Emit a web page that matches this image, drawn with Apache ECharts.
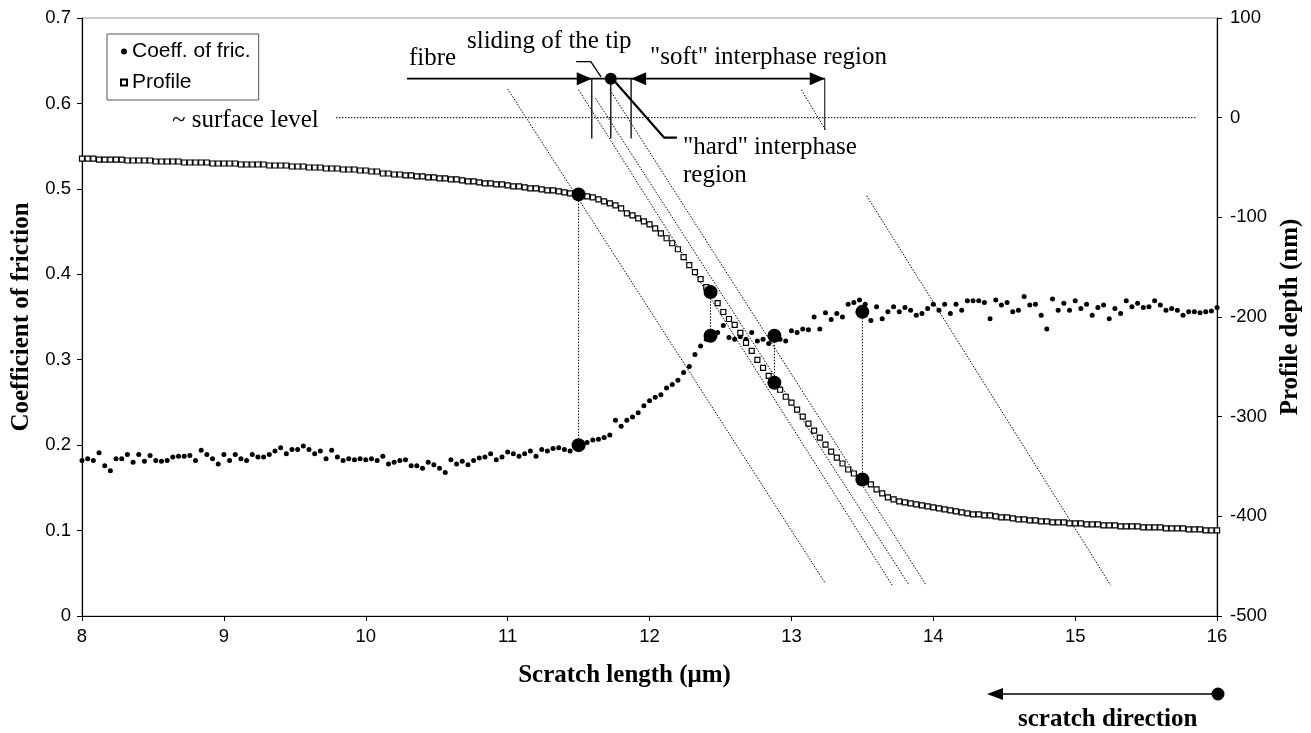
<!DOCTYPE html>
<html><head><meta charset="utf-8">
<script src="https://cdn.jsdelivr.net/npm/echarts@6/dist/echarts.min.js"></script>
<style>html,body{margin:0;padding:0;background:#fff}#chart{width:1311px;height:733px}</style>
</head><body><div id="chart"></div>
<script>
// ---- sampling grid of the scratch (µm) ----
const xStart = 8, xStep = 0.04;
// ---- axis ranges / ticks ----
const xRange = [8, 16], xInterval = 1;
const frictionRange = [0, 0.7], frictionInterval = 0.1;
const depthRange = [-500, 100], depthInterval = 100;

// ---- Coefficient of friction (left axis), one value per 0.04 µm from 8 to 16 ----
const frictionCoeff = [
0.182,0.184,0.182,0.191,0.176,0.170,0.184,0.184,0.189,0.180,
0.189,0.181,0.188,0.182,0.181,0.182,0.186,0.187,0.187,0.188,
0.182,0.194,0.189,0.184,0.178,0.189,0.182,0.189,0.184,0.182,
0.189,0.186,0.186,0.189,0.193,0.197,0.190,0.195,0.195,0.199,
0.195,0.190,0.193,0.184,0.194,0.186,0.182,0.184,0.183,0.184,
0.183,0.184,0.182,0.187,0.178,0.180,
0.182,0.183,0.176,0.176,0.173,0.180,0.177,0.173,0.168,0.183,0.178,0.181,0.177,0.182,
0.185,0.186,0.190,0.183,0.186,0.192,0.190,0.187,0.190,0.193,0.187,0.195,0.193,0.196,0.197,0.195,0.193,0.199,
0.202,0.203,0.206,0.207,0.209,0.212,0.229,0.222,0.229,0.233,
0.238,0.246,0.252,0.256,0.259,0.267,0.271,0.276,0.285,0.292,
0.306,0.316,0.324,0.328,0.332,0.340,0.326,0.324,0.327,0.324,
0.332,0.322,0.324,0.319,0.328,0.324,0.322,0.334,0.332,0.336,
0.335,0.350,0.336,0.355,0.347,0.354,0.350,0.365,0.367,0.370,
0.365,0.346,0.362,0.348,0.356,0.362,0.356,0.361,0.358,0.352,
0.354,0.360,0.365,0.358,0.365,0.354,0.365,
0.358,0.369,0.369,0.369,0.367,0.348,0.370,0.364,0.367,0.356,
0.358,0.374,0.364,0.365,0.352,0.336,0.371,0.358,0.366,0.358,
0.369,0.360,0.365,0.352,0.361,0.364,0.348,0.360,0.354,0.369,
0.362,0.366,0.361,0.362,0.369,0.364,0.358,0.360,0.358,0.352,
0.356,0.356,0.355,0.356,0.357,0.361
];

// ---- Profile depth (nm, right axis), one value per 0.04 µm from 8 to 16 ----
const profileDepth = [
-41,-41,-41,-42,-42,-42,-42,-42,-43,-43,
-43,-43,-43,-44,-44,-44,-44,-44,-45,-45,
-45,-45,-45,-46,-46,-46,-46,-46,-47,-47,
-47,-47,-47,-48,-48,-48,-48,-49,-49,-49,
-50,-50,-50,-51,-51,-51,-52,-52,-52,-53,
-53,-54,-54,-56,-56,-57,-57,-58,-58,-59,
-59,-60,-60,-61,-61,-62,-62,-63,-64,-64,
-65,-66,-66,-67,-67,-68,-69,-69,-70,-71,
-71,-72,-73,-73,-74,-75,-76,-77,-78,-79,
-80,-82,-84,-86,-88,-91,-96,-98,-101,-104,
-107,-111,-116,-121,-126,-132,-140,-148,-155,-162,
-170,-177,-186,-195,-202,-208,-216,-226,-234,-243,
-251,-259,-266,-273,-280,-286,-293,-300,-307,-314,
-321,-328,-335,-341,-347,-353,-357,-362,-365,-368,
-373,-377,-381,-383,-385,-386,-387,-388,-389,-390,
-391,-392,-393,-394,-395,-396,-397,-398,-398,-399,
-399,-400,-401,-401,-402,-403,-403,-404,-404,-405,
-405,-406,-406,-406,-407,-407,-407,-408,-408,-408,
-409,-409,-409,-410,-410,-410,-410,-411,-411,-411,
-411,-412,-412,-412,-412,-413,-413,-413,-414,-414,
-414
];

// ---- highlighted positions (big dots) ----
const markedLengths  = [11.5, 12.43, 12.88, 13.5];
const markedFriction = [0.200, 0.328, 0.328, 0.356];
const markedProfile  = [-77, -175, -266, -363];

// ---- annotation geometry, in data units (µm, friction scale) ----
const slantedGuides = [
  [[11.00,0.617],[13.24,0.038]],
  [[11.50,0.616],[13.71,0.036]],
  [[11.62,0.606],[13.83,0.036]],
  [[11.72,0.616],[13.95,0.036]],
  [[13.53,0.492],[15.25,0.036]],
  [[13.07,0.616],[13.24,0.569]]
];
const surfaceLevel = [[9.79,0],[15.85,0]];          // on depth axis (nm)
const regionArrow  = [[10.29,0.629],[13.235,0.629]];
const regionTicksX = [11.593, 11.727, 11.87];
const regionTickY  = [0.629, 0.559];
const softEndTick  = [[13.235,0.629],[13.235,0.569]];
const slidingLeader = [[11.483,0.649],[11.586,0.649],[11.658,0.631]];
const hardLeader    = [[11.743,0.628],[12.102,0.560],[12.193,0.560]];
const arrowHeads = [ [11.540,0.629,-90], [11.923,0.629,90], [13.182,0.629,-90] ];
const tipDot = [11.727, 0.629];

const scratchLength = frictionCoeff.map((_, i) => +(xStart + i * xStep).toFixed(2));
const frictionData = frictionCoeff.map((v, i) => [scratchLength[i], v]);
const profileData = profileDepth.map((v, i) => [scratchLength[i], v]);
const toFric = nm => (nm - depthRange[0]) / (depthRange[1] - depthRange[0]) * (frictionRange[1] - frictionRange[0]) + frictionRange[0];

const serif = '"Liberation Serif","Times New Roman",serif';
const sans = '"Liberation Sans",Arial,sans-serif';

function guide(points, style, yAxisIndex) {
  return { type: 'line', data: points, yAxisIndex: yAxisIndex || 0, symbol: 'none', showSymbol: false,
    silent: true, animation: false, z: 1, lineStyle: style, clip: false };
}
const dotted = { color: '#000', width: 1, type: [1.5, 1.5] };
const solid = { color: '#000', width: 1.3, type: 'solid' };

const series = [];
slantedGuides.forEach(g => series.push(guide(g, dotted)));
series.push(guide(surfaceLevel, dotted, 1));
markedLengths.forEach((x, i) => series.push(guide([[x, markedFriction[i]], [x, toFric(markedProfile[i])]], dotted)));
series.push(guide(regionArrow, { color: '#000', width: 1.6 }));
regionTicksX.forEach(x => series.push(guide([[x, regionTickY[0]], [x, regionTickY[1]]], solid)));
series.push(guide(softEndTick, { color: '#000', width: 1 }));
series.push(guide(slidingLeader, solid));
series.push(guide(hardLeader, { color: '#000', width: 2.2 }));

series.push({
  name: 'Coeff. of fric.', type: 'scatter', data: frictionData, yAxisIndex: 0,
  symbol: 'circle', symbolSize: 5, itemStyle: { color: '#000', opacity: 1 }, z: 3, animation: false
});
series.push({
  name: 'Profile', type: 'scatter', data: profileData, yAxisIndex: 1,
  symbol: 'rect', symbolSize: 5, itemStyle: { color: '#fff', borderColor: '#000', borderWidth: 1.2, opacity: 1 }, z: 3, animation: false
});
series.push({
  type: 'scatter', silent: true, yAxisIndex: 0, symbol: 'circle', symbolSize: 14, z: 4, animation: false,
  itemStyle: { color: '#000', opacity: 1 }, data: markedLengths.map((x, i) => [x, markedFriction[i]])
});
series.push({
  type: 'scatter', silent: true, yAxisIndex: 1, symbol: 'circle', symbolSize: 14, z: 4, animation: false,
  itemStyle: { color: '#000', opacity: 1 }, data: markedLengths.map((x, i) => [x, markedProfile[i]])
});
series.push({
  type: 'scatter', silent: true, yAxisIndex: 0, symbol: 'circle', symbolSize: 12, z: 4, animation: false,
  itemStyle: { color: '#000', opacity: 1 }, data: [tipDot]
});
series.push({
  type: 'scatter', silent: true, yAxisIndex: 0, symbol: 'triangle', symbolSize: [13, 15], z: 4, animation: false,
  itemStyle: { color: '#000', opacity: 1 }, data: arrowHeads.map(a => ({ value: [a[0], a[1]], symbolRotate: a[2] }))
});

const chart = echarts.init(document.getElementById('chart'), null, { renderer: 'canvas' });
chart.setOption({
  backgroundColor: '#fff',
  animation: false,
  grid: { left: 82, right: 92, top: 18, bottom: 117, show: true, borderColor: '#999', borderWidth: 1, backgroundColor: '#fff' },
  legend: {
    data: [{ name: 'Coeff. of fric.', icon: 'circle' }, { name: 'Profile', icon: 'rect' }],
    orient: 'vertical', left: 107, top: 34, itemWidth: 6, itemHeight: 6, itemGap: 10,
    padding: [7, 8, 7, 13], borderColor: '#555', borderWidth: 1, backgroundColor: '#fff',
    textStyle: { fontFamily: sans, fontSize: 21, color: '#000' }
  },
  xAxis: {
    type: 'value', min: xRange[0], max: xRange[1], interval: xInterval,
    name: 'Scratch length (μm)', nameLocation: 'middle', nameGap: 47,
    nameTextStyle: { fontFamily: serif, fontSize: 25, fontWeight: 'bold', color: '#000', padding: [0, 50, 0, 0] },
    axisLine: { show: true, lineStyle: { color: '#000', width: 1.2 } },
    axisTick: { show: true, length: 5, lineStyle: { color: '#000' } },
    axisLabel: { fontFamily: sans, fontSize: 18.5, color: '#000', margin: 11 },
    splitLine: { show: false }
  },
  yAxis: [{
    type: 'value', min: frictionRange[0], max: frictionRange[1], interval: frictionInterval, position: 'left',
    name: 'Coefficient of friction', nameLocation: 'middle', nameRotate: 90, nameGap: 41,
    nameTextStyle: { fontFamily: serif, fontSize: 25, fontWeight: 'bold', color: '#000' },
    axisLine: { show: true, lineStyle: { color: '#000', width: 1.2 } },
    axisTick: { show: true, length: 5, lineStyle: { color: '#000' } },
    axisLabel: { fontFamily: sans, fontSize: 18.5, color: '#000', margin: 11 },
    splitLine: { show: false }
  }, {
    type: 'value', min: depthRange[0], max: depthRange[1], interval: depthInterval, position: 'right',
    name: 'Profile depth (nm)', nameLocation: 'middle', nameRotate: 90, nameGap: 59,
    nameTextStyle: { fontFamily: serif, fontSize: 25, fontWeight: 'bold', color: '#000' },
    axisLine: { show: true, lineStyle: { color: '#000', width: 1.2 } },
    axisTick: { show: true, length: 5, lineStyle: { color: '#000' } },
    axisLabel: { fontFamily: sans, fontSize: 18.5, color: '#000', margin: 13 },
    splitLine: { show: false }
  }],
  graphic: [
    { type: 'text', left: 172, top: 108, style: { text: '~ surface level', font: '25px ' + serif, fill: '#000' } },
    { type: 'text', left: 409, top: 46, style: { text: 'fibre', font: '25px ' + serif, fill: '#000' } },
    { type: 'text', left: 467, top: 29, style: { text: 'sliding of the tip', font: '25px ' + serif, fill: '#000' } },
    { type: 'text', left: 650, top: 45, style: { text: '"soft" interphase region', font: '25px ' + serif, fill: '#000' } },
    { type: 'text', left: 683, top: 135, style: { text: '"hard" interphase', font: '25px ' + serif, fill: '#000' } },
    { type: 'text', left: 683, top: 163, style: { text: 'region', font: '25px ' + serif, fill: '#000' } },
    { type: 'text', left: 1018, top: 707, style: { text: 'scratch direction', font: 'bold 25px ' + serif, fill: '#000' } },
    { type: 'line', shape: { x1: 1000, y1: 694, x2: 1218, y2: 694 }, style: { stroke: '#000', lineWidth: 1.6 } },
    { type: 'polygon', shape: { points: [[987, 694], [1003, 688], [1003, 700]] }, style: { fill: '#000' } },
    { type: 'circle', shape: { cx: 1218, cy: 694, r: 6.5 }, style: { fill: '#000' } }
  ],
  series: series
});
</script></body></html>
